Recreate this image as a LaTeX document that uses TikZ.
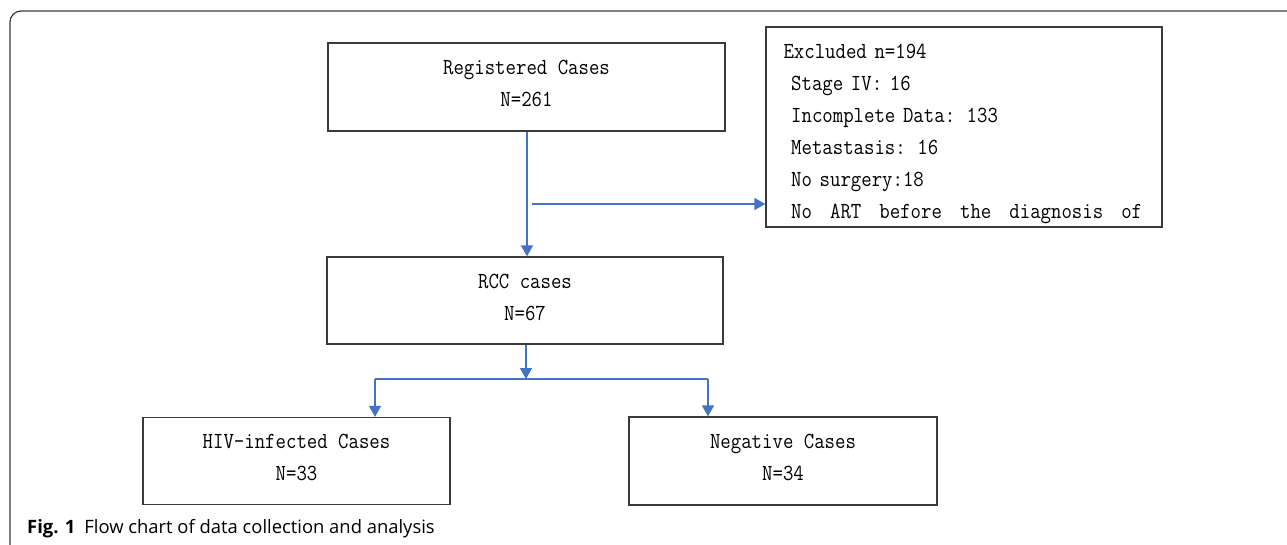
\documentclass[tikz,border=0pt]{standalone}
\usepackage{fontspec}
\usetikzlibrary{arrows.meta}
\newfontfamily\boxfont[FakeStretch=0.88]{Latin Modern Mono}
\newfontfamily\capfont{Open Sans}
\definecolor{flowblue}{HTML}{4472C4}
\definecolor{edgegray}{HTML}{3A3A3A}

\begin{document}
\begin{tikzpicture}[x=1pt,y=-1pt,
    box/.style={draw=edgegray, line width=1.3pt, rectangle, align=center,
                font=\boxfont\fontsize{23}{32}\selectfont,
                execute at end node={\rule[-7pt]{0pt}{7pt}}},
    arr/.style={draw=flowblue, line width=1.3pt, -{Triangle[width=12pt,length=11pt]}},
    link/.style={draw=flowblue, line width=1.3pt}]
            \useasboundingbox (0,0) rectangle (1287,544);
            \clip (0,0) rectangle (1287,544);

            %Frame
            \draw[edgegray, line width=1.2pt, rounded corners=11pt] (10,580) |- (1320,11);

            %Nodes
            \node[box, minimum width=397pt, minimum height=88pt] (reg) at (526.5,87) {Registered Cases\\N=261};
            \node[box, minimum width=396pt, minimum height=200pt, align=left, text width=361pt, inner sep=0pt] (excl) at (964,127)
                {\rule{0pt}{30pt}Excluded n=194\\
                 ~Stage IV: 16\\
                 ~Incomplete Data: 133\\
                 ~Metastasis: 16\\
                 ~No surgery:18\\
                 ~\makebox[351pt][s]{No \hfill ART \hfill before \hfill the \hfill diagnosis \hfill of}};
            \node[box, minimum width=396pt, minimum height=87pt] (rcc) at (525,300.5) {RCC cases\\N=67};
            \node[box, minimum width=307pt, minimum height=87pt] (hiv) at (296.5,461) {HIV-infected Cases\\N=33};
            \node[box, minimum width=308pt, minimum height=88pt] (neg) at (783,461) {Negative Cases\\N=34};

            \coordinate (tap) at (532,204);
            \coordinate (split) at (526,379);
            \coordinate (lft) at (375,379);
            \coordinate (rgt) at (708,379);

            %Lines
            \draw[arr] (reg.south -| 527,0) -- (527,0 |- rcc.north);
            \draw[arr] (tap) -- (tap -| excl.west);
            \draw[arr] (rcc.south -| split) -- (split);
            \draw[link] (lft) -- (rgt);
            \draw[arr] (lft) -- (lft |- hiv.north);
            \draw[arr] (rgt) -- (rgt |- neg.north);

            %Caption
            \node[anchor=base west, inner sep=0pt, font=\capfont\fontsize{18.4}{22}\selectfont] (cap) at (27,533)
                {\textbf{Fig. 1}\hspace{9pt}Flow chart of data collection and analysis};
        \end{tikzpicture}
\end{document}
